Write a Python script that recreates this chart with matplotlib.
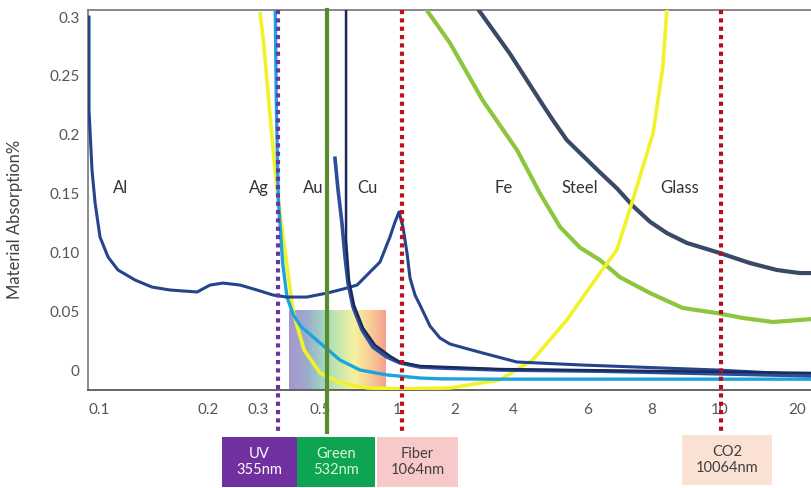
import numpy as np
import matplotlib.pyplot as plt
from matplotlib.patches import Rectangle
from matplotlib.colors import LinearSegmentedColormap

plt.rcParams['font.family'] = ['Lato', 'DejaVu Sans']

# wavelength axis (um); the original axis is not a true log scale,
# so each tick gets its own position along the axis
tick_wl = [0.1, 0.2, 0.3, 0.5, 1, 2, 4, 6, 8, 10, 20]
tick_labels = ['0.1', '0.2', '0.3', '0.5', '1', '2', '4', '6', '8', '10', '20']
tick_pos = [99, 208, 258, 320, 397, 455, 513, 588, 652, 720, 797]

y_ticks = [0, 0.05, 0.10, 0.15, 0.2, 0.25, 0.3]
y_labels = ['0', '0.05', '0.10', '0.15', '0.2', '0.25', '0.3']

# material absorption curves (wavelength um, absorption)
al_wl = [0.0938, 0.0938, 0.0956, 0.0975, 0.1006, 0.1059, 0.1128, 0.1257, 0.140, 0.157,
         0.1865, 0.2032, 0.2258, 0.2593, 0.2975, 0.3397, 0.3807, 0.4485, 0.5325, 0.615,
         0.698, 0.784, 0.858, 0.938, 0.982, 1.024, 1.074, 1.127, 1.168, 1.24, 1.316,
         1.483, 1.67, 1.882, 2.79, 4.087, 5.84, 9.9, 22.9]
al_abs = [0.300, 0.221, 0.170, 0.142, 0.113, 0.096, 0.085, 0.0765, 0.0705, 0.068,
          0.0663, 0.0722, 0.0739, 0.0722, 0.068, 0.0637, 0.062, 0.062, 0.0654, 0.0688,
          0.0722, 0.0833, 0.0918, 0.113, 0.1258, 0.1343, 0.1215, 0.0994, 0.0782, 0.0637, 0.0552,
          0.0374, 0.0272, 0.0221, 0.0144, 0.0068, 0.0042, 0.0, -0.0042]

au_wl = [0.572, 0.588, 0.609, 0.626, 0.643, 0.673, 0.730, 0.805, 0.913, 1.036, 1.316, 1.67,
         3.42, 6.33, 22.9]
au_abs = [0.180, 0.153, 0.125, 0.096, 0.074, 0.0535, 0.034, 0.0195, 0.011, 0.006, 0.0025,
          0.0017, 0.0, -0.001, -0.005]

cu_wl = [0.632, 0.632, 0.632, 0.649, 0.679, 0.736, 0.820, 0.938, 1.036, 1.316, 3.42, 22.9]
cu_abs = [0.31, 0.20, 0.1105, 0.0765, 0.0552, 0.0357, 0.0212, 0.0119, 0.0068, 0.0034,
          0.0008, -0.0025]

ag_wl = [0.3456, 0.3486, 0.3546, 0.3675, 0.3808, 0.4014, 0.427, 0.5, 0.598, 0.716, 0.913,
         1.316, 1.67, 3.42, 22.9]
ag_abs = [0.31, 0.229, 0.144, 0.0909, 0.062, 0.0467, 0.037, 0.023, 0.0085, 0.0, -0.0042,
          -0.0068, -0.0075, -0.0078, -0.0078]

glass_wl = [0.3053, 0.3134, 0.3276, 0.3425, 0.358, 0.374, 0.387, 0.4014, 0.4386, 0.5,
            0.598, 0.769, 1.036, 1.882, 3.42, 4.45, 5.35, 6.33, 6.83, 7.34, 8.03, 8.29, 8.40]
glass_abs = [0.3025, 0.2805, 0.229, 0.178, 0.136, 0.102, 0.0765, 0.0484, 0.017, -0.0025,
             -0.011, -0.0153, -0.016, -0.0153, -0.0085, 0.0085, 0.0425, 0.0824, 0.102,
             0.1445, 0.2014, 0.2575, 0.306]

fe_wl = [1.397, 1.882, 2.79, 4.087, 4.63, 5.16, 5.75, 6.33, 6.92, 7.93, 8.85, 9.9, 12.3,
         16.1, 20.5, 22.9]
fe_abs = [0.308, 0.278, 0.229, 0.187, 0.150, 0.1215, 0.104, 0.0935, 0.079, 0.0654, 0.0527,
          0.0484, 0.0442, 0.0408, 0.0425, 0.0433]

steel_wl = [2.60, 3.85, 4.63, 4.96, 5.35, 6.33, 6.83, 7.34, 7.93, 8.40, 8.97, 10.0,
            13.1, 16.7, 20.5, 22.9]
steel_abs = [0.308, 0.269, 0.229, 0.2125, 0.1955, 0.168, 0.1545, 0.1395, 0.126,
             0.1164, 0.108, 0.0994, 0.0909, 0.085, 0.0824, 0.0824]

# material name labels
mat_names = ['Al', 'Ag', 'Au', 'Cu', 'Fe', 'Steel', 'Glass']
mat_wl = [0.1143, 0.302, 0.472, 0.763, 3.59, 5.75, 8.77]

# laser wavelengths (um)
uv_wl = 0.355
green_wl = 0.532
fiber_wl = 1.064
co2_wl = 10.064

# visible band shown as a colour gradient
vis_lo, vis_hi = 0.387, 0.908
vis_top = 0.051

lt = np.log10(tick_wl)
lt_ext = np.concatenate([[lt[0] - 1], lt, [lt[-1] + 1]])
pos_ext = np.concatenate([[tick_pos[0] - 362], tick_pos, [tick_pos[-1] + 256]])


def fwd(x):
    x = np.clip(np.asarray(x, dtype=float), 1e-4, None)
    return np.interp(np.log10(x), lt_ext, pos_ext)


def inv(p):
    return 10 ** np.interp(np.asarray(p, dtype=float), pos_ext, lt_ext)


fig = plt.figure(figsize=(8.12, 4.88), dpi=100)
ax = fig.add_axes([88 / 812, 98 / 488, 724 / 812, 380 / 488])
ax.set_xscale('function', functions=(fwd, inv))
ymin, ymax = -0.017, 0.306
ax.set_xlim(0.0932, 22.9)
ax.set_ylim(ymin, ymax)

# visible spectrum block
spec = LinearSegmentedColormap.from_list(
    'spec', ['#9484c4', '#8a9cc6', '#8fcfb4', '#bfe3a0', '#f4f08e', '#f7c684', '#f3907a'])
xe = np.geomspace(vis_lo, vis_hi, 90)
ax.pcolormesh(xe, [ymin, vis_top], np.linspace(0, 1, 89)[None, :], cmap=spec,
              alpha=0.85, shading='flat', zorder=1, edgecolor='none')

ax.plot(steel_wl, steel_abs, color='#3a4a66', lw=3, zorder=3, solid_capstyle='butt')
ax.plot(fe_wl, fe_abs, color='#8cc63e', lw=3, zorder=3, solid_capstyle='butt')
ax.plot(glass_wl, glass_abs, color='#f2f22a', lw=2.6, zorder=3)
ax.plot(ag_wl, ag_abs, color='#1ea4dc', lw=2.4, zorder=3)
ax.plot(al_wl, al_abs, color='#24448c', lw=2.2, zorder=3)
ax.plot(au_wl, au_abs, color='#2a4f96', lw=2.6, zorder=3)
ax.plot(cu_wl, cu_abs, color='#1b2a5c', lw=1.8, zorder=3)

for name, wl in zip(mat_names, mat_wl):
    ax.text(wl, 0.155, name, ha='center', va='center', fontsize=12, color='#333333')

# laser lines, running down past the axis to the labels
y_low = -0.053
ax.plot([uv_wl, uv_wl], [ymax, y_low], color='#6b34a4', lw=3, ls=(0, (1, 1)),
        dash_capstyle='butt', clip_on=False, zorder=5)
ax.plot([green_wl, green_wl], [ymax, y_low], color='#5a8a2e', lw=3, clip_on=False, zorder=5)
ax.plot([fiber_wl, fiber_wl], [ymax, y_low], color='#c0101a', lw=3, ls=(0, (1, 1)),
        dash_capstyle='butt', clip_on=False, zorder=5)
ax.plot([co2_wl, co2_wl], [ymax, y_low], color='#b0101a', lw=3, ls=(0, (1, 1)),
        dash_capstyle='butt', clip_on=False, zorder=5)

ax.set_xticks(tick_wl)
ax.set_xticklabels(tick_labels)
ax.minorticks_off()
ax.set_yticks(y_ticks)
ax.set_yticklabels(y_labels)
ax.tick_params(axis='both', length=0, labelsize=11, labelcolor='#555555')
ax.tick_params(axis='x', pad=9)
ax.tick_params(axis='y', pad=6)
ax.set_ylabel('Material Absorption%', fontsize=12, color='#404040')
ax.yaxis.set_label_coords(-0.09, 0.45)

ax.spines['right'].set_visible(False)
ax.spines['top'].set_color('#808080')
ax.spines['left'].set_color('#808080')
ax.spines['bottom'].set_color('#5a5a5a')
for s in ['top', 'left', 'bottom']:
    ax.spines[s].set_linewidth(1.3)

# laser name boxes below the axis (figure pixels)
boxes = [
    (222, 297, 437, 487, '#7030a0', '#ffffff', 'UV\n355nm'),
    (297, 375, 437, 487, '#0ea552', '#d9f5d9', 'Green\n532nm'),
    (377, 458, 437, 487, '#f8c9c9', '#404040', 'Fiber\n1064nm'),
    (682, 772, 435, 485, '#fbe1d3', '#404040', 'CO2\n10064nm'),
]
W, H = 812, 488
for x0, x1, y0, y1, fc, tc, txt in boxes:
    fig.add_artist(Rectangle((x0 / W, 1 - y1 / H), (x1 - x0) / W, (y1 - y0) / H,
                             transform=fig.transFigure, facecolor=fc, edgecolor='none'))
    fig.text((x0 + x1) / 2 / W, 1 - (y0 + y1) / 2 / H, txt, ha='center', va='center',
             fontsize=10.5, color=tc, linespacing=1.25)

fig.savefig('out.png', dpi=100)
